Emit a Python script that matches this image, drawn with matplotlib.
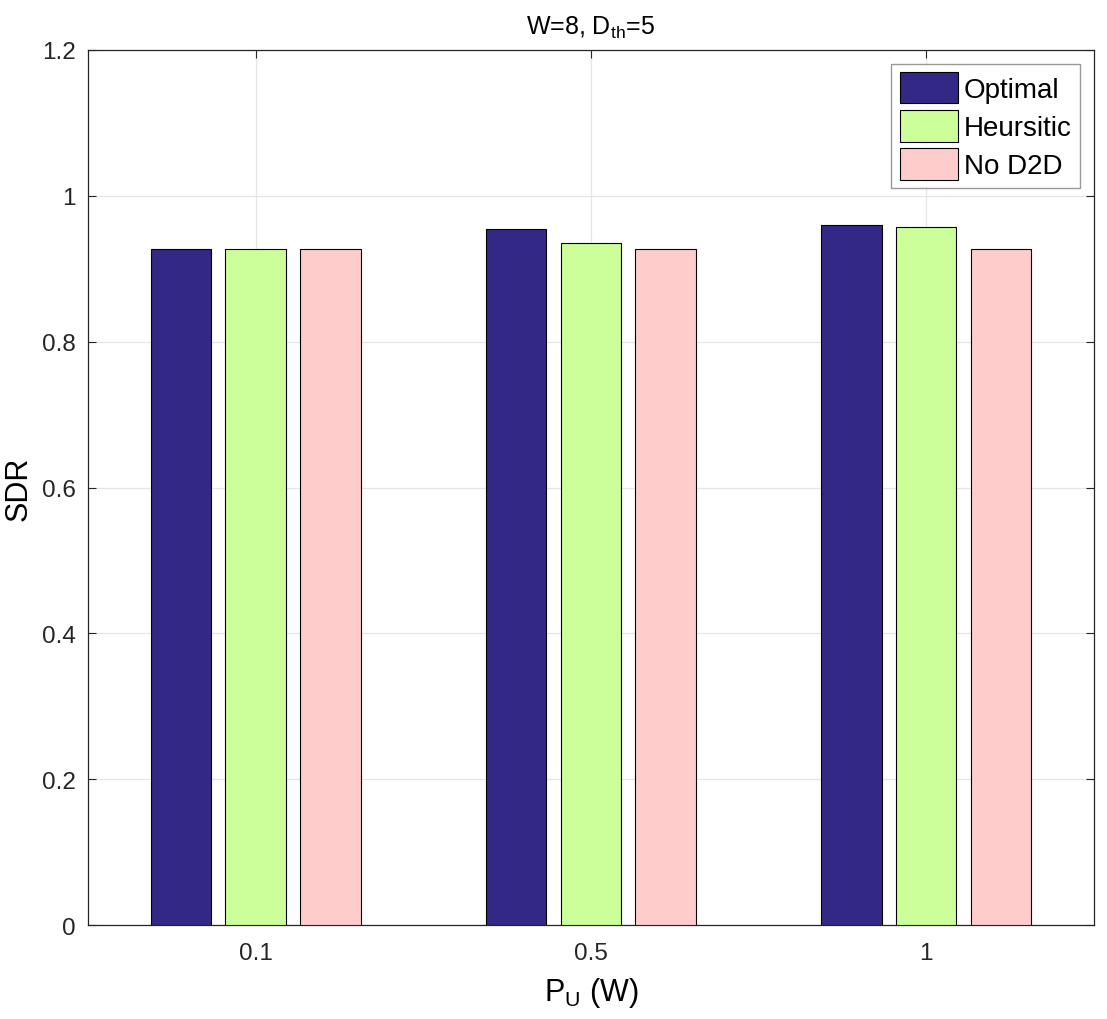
import numpy as np
import matplotlib
matplotlib.use("Agg")
import matplotlib.pyplot as plt

# data
p_u_labels = ["0.1", "0.5", "1"]
sdr_optimal = [0.927, 0.955, 0.960]
sdr_heuristic = [0.927, 0.936, 0.957]
sdr_no_d2d = [0.927, 0.927, 0.927]
series_names = ["Optimal", "Heursitic", "No D2D"]

plt.rcParams['font.family'] = ['Liberation Sans', 'DejaVu Sans']
plt.rcParams['mathtext.fontset'] = 'custom'
plt.rcParams['mathtext.rm'] = 'Liberation Sans'
plt.rcParams['mathtext.it'] = 'Liberation Sans'
plt.rcParams['mathtext.default'] = 'rm'

fig = plt.figure(figsize=(11.07, 10.2), dpi=100)
ax = fig.add_axes([0.0795, 0.092, 0.9085, 0.858])

x = np.arange(1, len(p_u_labels) + 1)
lebar = 0.18
geser = 0.223
warna = ["#332885", "#CCFF99", "#FFCCCC"]
semua = [sdr_optimal, sdr_heuristic, sdr_no_d2d]

for i, (vals, nama, c) in enumerate(zip(semua, series_names, warna)):
    ax.bar(x + (i - 1) * geser, vals, width=lebar, color=c, edgecolor='black',
           linewidth=0.8, label=nama, zorder=3)

ax.set_xlim(0.5, 3.5)
ax.set_ylim(0, 1.2)
ax.set_xticks(x)
ax.set_xticklabels(p_u_labels)
ax.set_yticks(np.arange(0, 1.21, 0.2))
ax.set_yticklabels(["0", "0.2", "0.4", "0.6", "0.8", "1", "1.2"])
ax.tick_params(labelsize=17.5, direction='in', top=True, right=True, length=6,
               colors='#262626')
ax.tick_params(axis='x', pad=12)
ax.tick_params(axis='y', pad=9)
ax.grid(True, color='#e6e6e6', linewidth=0.9, zorder=0)
for s in ax.spines.values():
    s.set_color('#262626')
    s.set_linewidth(0.9)

ax.set_title(r'W=8, D$_{\mathrm{th}}$=5', fontsize=18, pad=12)
ax.set_xlabel(r'P$_{\mathrm{U}}$ (W)', fontsize=22, labelpad=8)
ax.set_ylabel('SDR', fontsize=22, labelpad=6)

leg = ax.legend(loc='upper right', fontsize=20, frameon=True, fancybox=False,
                edgecolor='#808080', handlelength=2.1, handleheight=1.35,
                handletextpad=0.2, borderaxespad=0.5, labelspacing=0.25,
                borderpad=0.3)
leg.get_frame().set_linewidth(1.0)

fig.savefig("out.png", dpi=100)
